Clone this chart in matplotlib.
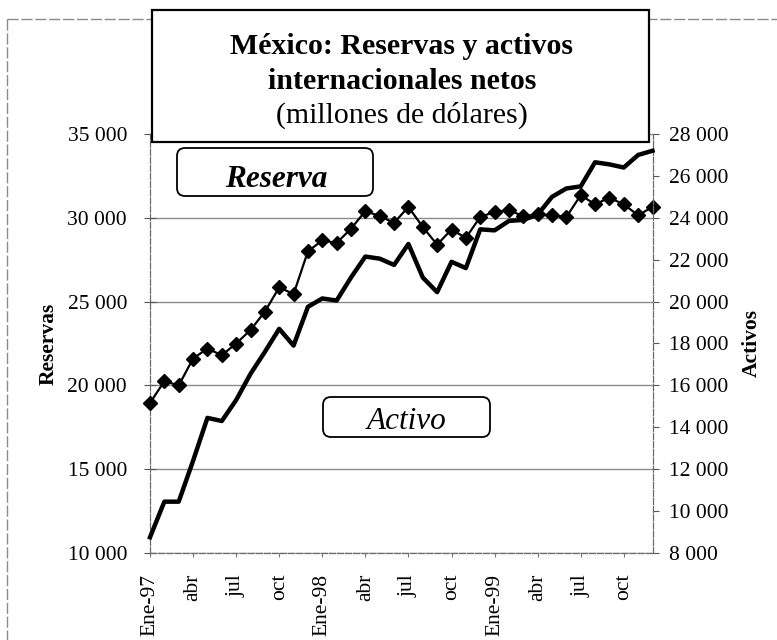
import matplotlib
matplotlib.use('Agg')
import matplotlib.pyplot as plt
from matplotlib.patches import Rectangle, FancyBboxPatch
from matplotlib.lines import Line2D
from matplotlib.ticker import FuncFormatter
import numpy as np

plt.rcParams['font.family'] = ['Liberation Serif', 'DejaVu Serif']

# ---------------- data ----------------
tick_labels = ['Ene-97', 'abr', 'jul', 'oct', 'Ene-98', 'abr', 'jul', 'oct',
               'Ene-99', 'abr', 'jul', 'oct']
reserva = [18950, 20250, 20000, 21600, 22200, 21800, 22500, 23300, 24400,
           25850, 25450, 28000, 28650, 28500, 29350, 30400, 30100, 29700,
           30650, 29450, 28400, 29300, 28800, 30050, 30350, 30450, 30100,
           30200, 30150, 30050, 31350, 30800, 31200, 30800, 30150, 30650]
activo = [8750, 10450, 10450, 12400, 14450, 14300, 15300, 16550, 17600,
          18700, 17900, 19750, 20150, 20050, 21150, 22150, 22050, 21750,
          22750, 21150, 20450, 21900, 21600, 23450, 23400, 23850, 23900,
          24150, 25000, 25400, 25500, 26650, 26550, 26400, 27000, 27200]
title_lines = ['México: Reservas y activos', 'internacionales netos',
               '(millones de dólares)']

W, H = 777, 640
fig = plt.figure(figsize=(W / 100, H / 100), dpi=100)
fig.patch.set_facecolor('white')


def fx(px):
    return px / W


def fy(py):
    return 1 - py / H


ax_l, ax_r, ax_t, ax_b = 150, 652.5, 134, 553
ax = fig.add_axes([fx(ax_l), fy(ax_b), (ax_r - ax_l) / W, (ax_b - ax_t) / H])
x = np.arange(len(reserva))

ax.plot(x, reserva, color='black', lw=1.6, marker='D', ms=7.5, zorder=4,
        clip_on=False)
ax.set_xlim(0, len(reserva) - 1)
ax.set_ylim(10000, 35000)
ax.set_yticks(np.arange(10000, 35001, 5000))
fmt = FuncFormatter(lambda v, p: f"{int(round(v)):,}".replace(',', ' '))
ax.yaxis.set_major_formatter(fmt)
ax.grid(axis='y', color='#8a8a8a', lw=1.0)
ax.set_axisbelow(True)

ax.set_xticks(np.arange(0, len(reserva), 3))
ax.set_xticklabels(tick_labels, rotation=90, va='top', ha='center')

ax2 = ax.twinx()
ax2.plot(x, activo, color='black', lw=3.2, zorder=3, clip_on=False)
ax2.set_ylim(8000, 28000)
ax2.set_yticks(np.arange(8000, 28001, 2000))
ax2.yaxis.set_major_formatter(fmt)

spine_kw = dict(color='#6a6a6a', linewidth=0.9, linestyle=(0, (5, 1.5)))
for s in ['top', 'right']:
    ax.spines[s].set_visible(False)
for s in ['top', 'left', 'bottom']:
    ax2.spines[s].set_visible(False)
ax.spines['left'].set(**spine_kw)
ax.spines['bottom'].set(**spine_kw)
ax2.spines['right'].set(**spine_kw)

ax.tick_params(axis='y', direction='inout', length=9, width=0.8,
               color='#555555', pad=12, labelsize=15.5)
ax.tick_params(axis='x', direction='out', length=3, width=0.8,
               color='#777777', pad=12, labelsize=15.5)
ax2.tick_params(axis='y', direction='out', length=4, width=0.8,
                color='#555555', pad=8, labelsize=15.5)

ax.set_ylabel('Reservas', fontweight='bold', fontsize=15.5, labelpad=6)
ax2.set_ylabel('Activos', fontweight='bold', fontsize=15.5, labelpad=9)

# outer chart border (dashed, partially visible)
for (xa, ya, xb, yb) in [(7, 19, 777, 19), (7, 19, 7, 640)]:
    fig.add_artist(Line2D([fx(xa), fx(xb)], [fy(ya), fy(yb)],
                          color='#8a8a8a', lw=1.0, linestyle=(0, (8, 2)),
                          zorder=1))

# title box
box = Rectangle((1.52, (H - 142) / 100), 4.97, 1.32,
                transform=fig.dpi_scale_trans, facecolor='white',
                edgecolor='black', lw=1.6, zorder=10)
fig.add_artist(box)
tcx = 402
fig.text(fx(tcx), fy(54), title_lines[0], ha='center', va='baseline',
         fontsize=21.5, fontweight='bold', zorder=11)
fig.text(fx(tcx), fy(89), title_lines[1], ha='center', va='baseline',
         fontsize=21.5, fontweight='bold', zorder=11)
fig.text(fx(tcx), fy(123), title_lines[2], ha='center', va='baseline',
         fontsize=21.5, zorder=11)

# series label boxes
rb = FancyBboxPatch((1.77, (H - 196) / 100), 1.96, 0.48,
                    boxstyle='round,pad=0,rounding_size=0.08',
                    transform=fig.dpi_scale_trans, facecolor='white',
                    edgecolor='black', lw=1.3, zorder=10)
fig.add_artist(rb)
fig.text(fx(276), fy(187), 'Reserva', ha='center', va='baseline',
         fontsize=22.5, fontweight='bold', fontstyle='italic', zorder=11)

abx = FancyBboxPatch((3.23, (H - 437) / 100), 1.67, 0.40,
                     boxstyle='round,pad=0,rounding_size=0.08',
                     transform=fig.dpi_scale_trans, facecolor='white',
                     edgecolor='black', lw=1.3, zorder=10)
fig.add_artist(abx)
fig.text(fx(406.5), fy(429), 'Activo', ha='center', va='baseline',
         fontsize=22.5, fontstyle='italic', zorder=11)

fig.savefig('out.png', dpi=100)
